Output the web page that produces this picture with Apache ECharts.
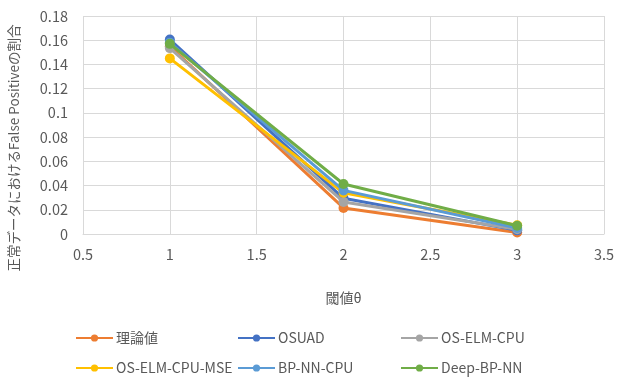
<!DOCTYPE html>
<html><head><meta charset="utf-8">
<script src="https://cdn.jsdelivr.net/npm/echarts@6/dist/echarts.min.js"></script>
<style>html,body{margin:0;padding:0;background:#fff}#c{width:629px;height:378px}</style>
</head><body><div id="c"></div>
<script>
const thresholds = [1, 2, 3];
const seriesNames = ['理論値', 'OSUAD', 'OS-ELM-CPU', 'OS-ELM-CPU-MSE', 'BP-NN-CPU', 'Deep-BP-NN'];
const riron = [0.155, 0.0215, 0.0013];
const osuad = [0.1605, 0.0295, 0.003];
const oselmCpu = [0.1535, 0.0265, 0.004];
const oselmMse = [0.145, 0.034, 0.0072];
const bpnnCpu = [0.158, 0.036, 0.005];
const deepBpnn = [0.157, 0.0413, 0.0068];
const yAxisTitle = '正常データにおけるFalse Positiveの割合';
const xAxisTitle = '閾値θ';
const colors = ['#ED7D31', '#4472C4', '#A5A5A5', '#FFC000', '#5B9BD5', '#70AD47'];
const allValues = [riron, osuad, oselmCpu, oselmMse, bpnnCpu, deepBpnn];

const font = '"Noto Sans CJK JP", "Liberation Sans", sans-serif';
const chart = echarts.init(document.getElementById('c'));
const series = seriesNames.map((n, i) => ({
  name: n, type: 'line',
  data: thresholds.map((t, j) => [t, allValues[i][j]]),
  symbol: 'circle', symbolSize: 10,
  lineStyle: { width: 3, color: colors[i] },
  itemStyle: { color: colors[i] },
  z: 2 + i
}));
const legendLeft = [75, 237, 400];
const legendTop = [331, 361];
const legends = seriesNames.map((n, i) => ({
  left: legendLeft[i % 3], top: legendTop[Math.floor(i / 3)],
  padding: 0,
  itemWidth: 37, itemHeight: 9, itemGap: 0,
  data: [n],
  textStyle: { color: '#595959', fontSize: 14, fontFamily: font, padding: [0, 0, 0, -2] }
}));
chart.setOption({
  animation: false,
  color: colors,
  grid: { left: 83, right: 25, top: 16, bottom: 144 },
  xAxis: {
    type: 'value', min: 0.5, max: 3.5, interval: 0.5,
    name: xAxisTitle, nameLocation: 'middle', nameGap: 57,
    nameTextStyle: { color: '#595959', fontSize: 14, fontFamily: font },
    axisLine: { show: true, lineStyle: { color: '#d9d9d9', width: 1 } },
    axisTick: { show: false },
    axisLabel: { color: '#595959', fontSize: 14.5, fontFamily: font, margin: 13 },
    splitLine: { show: true, lineStyle: { color: '#d9d9d9', width: 1 } }
  },
  yAxis: {
    type: 'value', min: 0, max: 0.18, interval: 0.02,
    axisLine: { show: false }, axisTick: { show: false },
    axisLabel: { color: '#595959', fontSize: 14.5, fontFamily: font, margin: 15 },
    splitLine: { show: true, lineStyle: { color: '#d9d9d9', width: 1 } }
  },
  graphic: [{
    type: 'text', x: 14, y: 148, rotation: Math.PI / 2,
    style: { text: yAxisTitle, fill: '#595959', fontSize: 13.5, fontFamily: font,
      align: 'center', verticalAlign: 'middle' }
  }],
  legend: legends,
  series: series
});
</script></body></html>
